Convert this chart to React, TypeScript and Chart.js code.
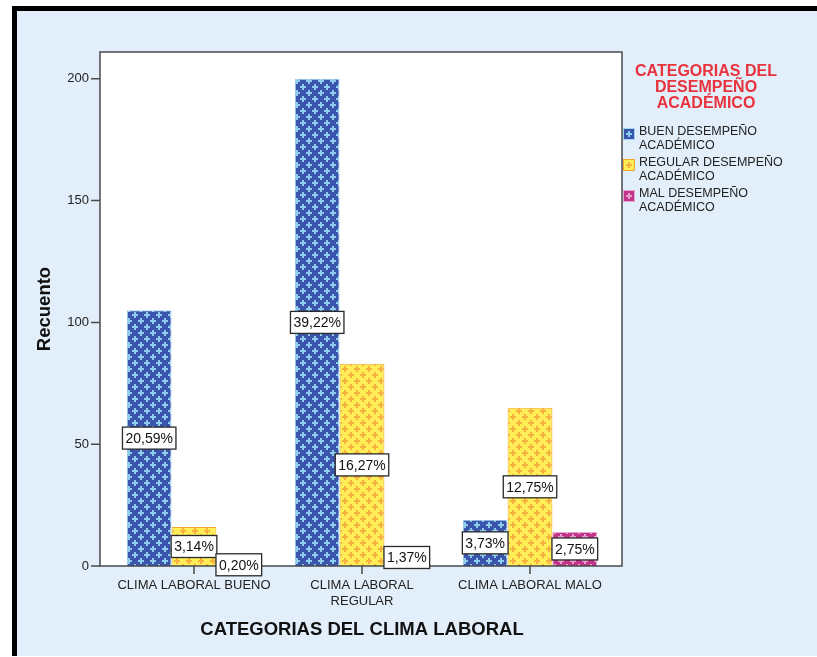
import React, { useEffect, useRef } from "react";
import { Chart, registerables } from "chart.js";

Chart.register(...registerables);

// Counts per work-climate category, one array per academic performance group
const categories: (string | string[])[] = [
  "CLIMA LABORAL BUENO",
  ["CLIMA LABORAL", "REGULAR"],
  "CLIMA LABORAL MALO",
];
const seriesNames = [
  "BUEN DESEMPEÑO ACADÉMICO",
  "REGULAR DESEMPEÑO ACADÉMICO",
  "MAL DESEMPEÑO ACADÉMICO",
];
const buenValues = [105, 200, 19];
const regularValues = [16, 83, 65];
const malValues = [1, 7, 14];
const yTicks = [0, 50, 100, 150, 200];
const yMax = 211;
const legendTitle = ["CATEGORIAS DEL", "DESEMPEÑO", "ACADÉMICO"];
const xTitle = "CATEGORIAS DEL CLIMA LABORAL";
const yTitle = "Recuento";

const FONT = "'Liberation Sans', Arial, sans-serif";
const PAGE_BG = "#E2EEFA";

const palettes = [
  { fill: "#3B54AC", mark: "#8CCDEB", edge: "#9BD6F2" },
  { fill: "#FFEE58", mark: "#F7B13E", edge: "#F4A72E" },
  { fill: "#C2338A", mark: "#E89CCB", edge: "#E2A8D0" },
];

function makePattern(fill: string, mark: string): CanvasPattern | string {
  const c = document.createElement("canvas");
  c.width = 12;
  c.height = 12;
  const g = c.getContext("2d");
  if (!g) return fill;
  g.fillStyle = fill;
  g.fillRect(0, 0, 12, 12);
  g.fillStyle = mark;
  for (const [cx, cy] of [
    [3, 3],
    [9, 9],
  ]) {
    g.fillRect(cx - 3, cy - 1, 6, 2);
    g.fillRect(cx - 1, cy - 3, 2, 6);
  }
  return g.createPattern(c, "repeat") || fill;
}

const allSeries = [buenValues, regularValues, malValues];
const total = allSeries.reduce((s, arr) => s + arr.reduce((a, b) => a + b, 0), 0);
const pctText = (v: number) => ((v / total) * 100).toFixed(2).replace(".", ",") + "%";

// Plot frame, tick marks, value boxes and the side legend
const decorations = {
  id: "decorations",
  beforeDraw(chart: any) {
    const { ctx, chartArea, width, height } = chart;
    ctx.save();
    ctx.fillStyle = "#ffffff";
    ctx.fillRect(0, 0, width, height);
    ctx.fillStyle = "#000000";
    ctx.fillRect(12, 6, width - 12, 5);
    ctx.fillRect(12, 6, 5, height - 7);
    ctx.fillStyle = PAGE_BG;
    ctx.fillRect(17, 11, width - 17, height - 12);
    ctx.fillStyle = "#ffffff";
    const left = chartArea.left - 10;
    const right = chartArea.right + 8;
    ctx.fillRect(left, chartArea.top, right - left, chartArea.bottom - chartArea.top);
    ctx.restore();
  },
  afterDatasetsDraw(chart: any) {
    const { ctx, chartArea, scales } = chart;
    const left = chartArea.left - 10;
    const right = chartArea.right + 8;
    ctx.save();
    ctx.strokeStyle = "#4a4a4a";
    ctx.lineWidth = 1.5;
    ctx.strokeRect(left, chartArea.top, right - left, chartArea.bottom - chartArea.top);

    ctx.beginPath();
    for (const v of yTicks) {
      const y = scales.y.getPixelForValue(v);
      ctx.moveTo(left - 9, y);
      ctx.lineTo(left, y);
    }
    categories.forEach((_, i) => {
      const x = scales.x.getPixelForTick(i);
      ctx.moveTo(x, chartArea.bottom);
      ctx.lineTo(x, chartArea.bottom + 8);
    });
    ctx.stroke();

    // percentage boxes centred on each bar
    ctx.font = `14px ${FONT}`;
    ctx.textAlign = "center";
    ctx.textBaseline = "middle";
    chart.data.datasets.forEach((ds: any, di: number) => {
      const meta = chart.getDatasetMeta(di);
      meta.data.forEach((el: any, i: number) => {
        const { x, y, base } = el.getProps(["x", "y", "base"], true);
        const cy = (y + base) / 2;
        const text = pctText(ds.data[i]);
        const w = ctx.measureText(text).width + 6;
        const h = 22;
        ctx.fillStyle = "#ffffff";
        ctx.fillRect(x - w / 2, cy - h / 2, w, h);
        ctx.strokeStyle = "#2a2a2a";
        ctx.lineWidth = 1.3;
        ctx.strokeRect(x - w / 2, cy - h / 2, w, h);
        ctx.fillStyle = "#111111";
        ctx.fillText(text, x, cy + 1);
      });
    });
    ctx.restore();
  },
  afterDraw(chart: any) {
    const { ctx } = chart;
    ctx.save();
    ctx.textAlign = "center";
    ctx.textBaseline = "alphabetic";
    ctx.fillStyle = "#E8323C";
    ctx.font = `bold 16px ${FONT}`;
    legendTitle.forEach((line, i) => {
      ctx.fillText(line, 706, 75.5 + i * 16.3);
    });

    ctx.textAlign = "left";
    ctx.font = `12.5px ${FONT}`;
    chart.data.datasets.forEach((ds: any, i: number) => {
      const p = palettes[i];
      const base = 135 + i * 31;
      const bx = 623;
      const by = base - 7;
      ctx.fillStyle = p.fill;
      ctx.fillRect(bx, by, 12, 12);
      ctx.fillStyle = p.mark;
      ctx.fillRect(bx + 3, by + 5, 6, 2);
      ctx.fillRect(bx + 5, by + 3, 2, 6);
      ctx.strokeStyle = p.edge;
      ctx.lineWidth = 1;
      ctx.strokeRect(bx + 0.5, by + 0.5, 11, 11);
      const label: string = ds.label;
      const cut = label.lastIndexOf(" ");
      const lines = [label.slice(0, cut), label.slice(cut + 1)];
      ctx.fillStyle = "#222222";
      lines.forEach((ln, k) => ctx.fillText(ln, 639, base + k * 13.5));
    });
    ctx.restore();
  },
};

export default function App() {
  const ref = useRef<HTMLCanvasElement | null>(null);

  useEffect(() => {
    if (!ref.current) return;
    const datasets = allSeries.map((values, i) => ({
      label: seriesNames[i],
      data: values,
      backgroundColor: makePattern(palettes[i].fill, palettes[i].mark),
      borderColor: palettes[i].edge,
      borderWidth: 1,
      categoryPercentage: 0.8,
      barPercentage: 1,
    }));

    const chart = new Chart(ref.current, {
      type: "bar",
      data: { labels: categories as any, datasets: datasets as any },
      options: {
        responsive: false,
        animation: false,
        layout: { padding: { left: 17, top: 52, right: 203, bottom: 1 } },
        plugins: {
          legend: { display: false },
          tooltip: { enabled: false },
        },
        scales: {
          x: {
            offset: true,
            grid: { display: false, drawTicks: false },
            border: { display: false },
            ticks: {
              font: { family: FONT, size: 13 },
              color: "#222222",
              padding: 12,
              maxRotation: 0,
              minRotation: 0,
              autoSkip: false,
            },
            title: {
              display: true,
              text: xTitle,
              font: { family: FONT, size: 18.5, weight: "bold" },
              color: "#111111",
              padding: { top: 0, bottom: 15 },
            },
            afterFit: (s: any) => {
              s.height = 90;
            },
          },
          y: {
            min: 0,
            max: yMax,
            grid: { display: false, drawTicks: false },
            border: { display: false },
            ticks: {
              font: { family: FONT, size: 13 },
              color: "#222222",
              padding: 21,
            },
            afterBuildTicks: (s: any) => {
              s.ticks = yTicks.map((v) => ({ value: v }));
            },
            title: {
              display: true,
              text: yTitle,
              font: { family: FONT, size: 18.5, weight: "bold" },
              color: "#111111",
              padding: { top: 17, bottom: 0 },
            },
            afterFit: (s: any) => {
              s.width = 93;
            },
          },
        },
      },
      plugins: [decorations],
    });
    return () => chart.destroy();
  }, []);

  return (
    <div style={{ position: "fixed", left: 0, top: 0, width: 817, height: 657 }}>
      <canvas ref={ref} width={817} height={657} style={{ display: "block", width: 817, height: 657 }} />
    </div>
  );
}
